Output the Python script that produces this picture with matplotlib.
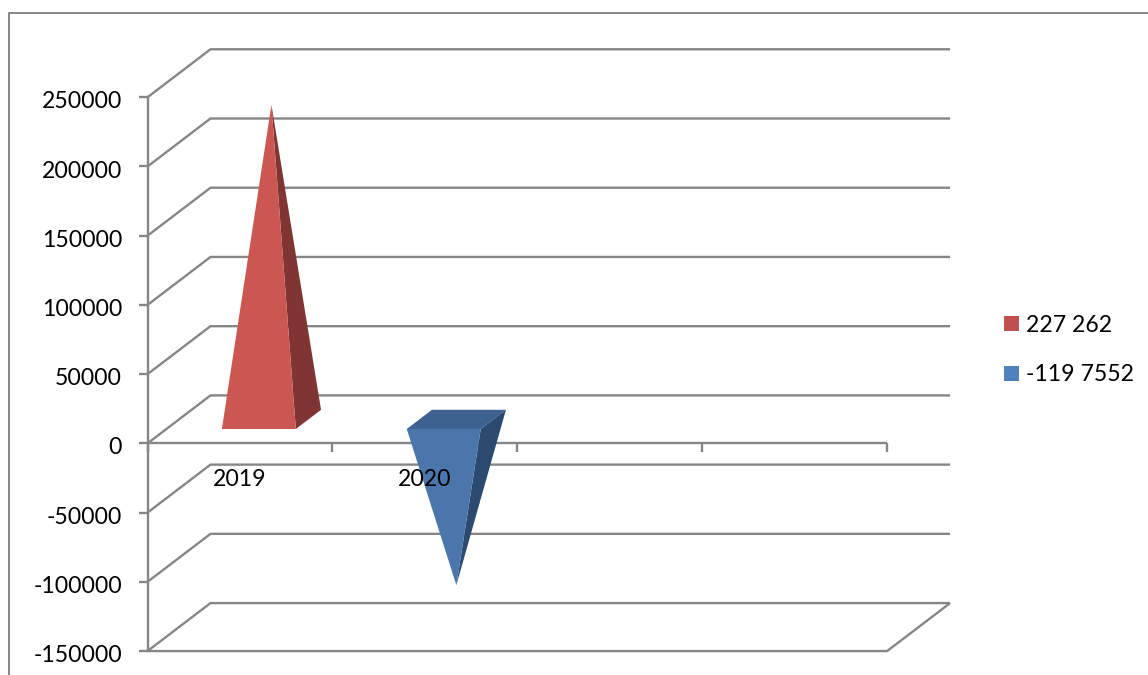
import matplotlib

matplotlib.use("Agg")
import matplotlib.pyplot as plt
from matplotlib.lines import Line2D
from matplotlib.patches import Patch, Polygon

plt.rcParams["font.family"] = ["Lato", "DejaVu Sans"]

# chart data
categories = ["2019", "2020", "", ""]
series_labels = ["227 262", "-119 7552"]
values = [227262, -119755]
y_ticks = [250000, 200000, 150000, 100000, 50000, 0, -50000, -100000, -150000]

# pixel scale of the 3D box
W, H = 1148, 675
CAT_PX = 184.9
VAL_PX = 1.3845 / 1000
X0_PX, Y0_PX = 147.5, 443.4
DEPTH_X = 63 / CAT_PX
DEPTH_Y = 48 / VAL_PX

GRID = "#868686"
LW = 1.7
FONT = 16.6

RED = {"face": "#CB5753", "side": "#803533", "key": "#C0504D"}
BLUE = {"face": "#4A76AC", "side": "#2C4A6F", "top": "#3E6290", "key": "#4F81BD"}


def project(cat, value, depth=0.0):
    """Category/value/depth to the oblique drawing plane."""
    return cat + depth * DEPTH_X, value + depth * DEPTH_Y


def pyramid(ax, slot, value, colors):
    # base square spans 0.4 of a category and 0.3-0.7 of the depth
    x0 = slot + 0.3
    x1 = slot + 0.7
    d0, d1 = 0.3, 0.7
    apex = project(slot + 0.5, value, 0.5)
    if value < 0:
        top = [project(x0, 0, d0), project(x1, 0, d0), project(x1, 0, d1), project(x0, 0, d1)]
        ax.add_patch(Polygon(top, fc=colors["top"], ec="none", zorder=3))
    side = [project(x1, 0, d0), project(x1, 0, d1), apex]
    ax.add_patch(Polygon(side, fc=colors["side"], ec="none", zorder=3))
    front = [project(x0, 0, d0), project(x1, 0, d0), apex]
    ax.add_patch(Polygon(front, fc=colors["face"], ec="none", zorder=4))


fig = plt.figure(figsize=(W / 100, H / 100), dpi=100)
ax = fig.add_axes([0, 0, 1, 1])
ax.set_xlim(-X0_PX / CAT_PX, (W - X0_PX) / CAT_PX)
ax.set_ylim((Y0_PX - H) / VAL_PX, Y0_PX / VAL_PX)
ax.axis("off")

n_cat = len(categories)
y_min, y_max = min(y_ticks), max(y_ticks)
tick_x = 8.5 / CAT_PX
line = dict(color=GRID, lw=LW, solid_capstyle="butt", zorder=2)

# wall gridlines with their floor diagonals, and value labels
for v in y_ticks:
    xs, ys = zip(project(0, v), project(0, v, 1), project(n_cat, v, 1))
    ax.plot(xs, ys, **line)
    ax.plot([-tick_x, 0], [v, v], **line)
    ax.text(-25.5 / CAT_PX, v - 4.5 / VAL_PX, str(v), ha="right", va="center", fontsize=FONT, color="black", zorder=6)

# value axis, floor edges, category axis
ax.plot([0, 0], [y_min, y_max], **line)
xs, ys = zip(project(0, y_min), project(n_cat, y_min), project(n_cat, y_min, 1))
ax.plot(xs, ys, **line)
ax.plot([0, n_cat], [0, 0], **line)
for i in range(n_cat + 1):
    ax.plot([i, i], [0, -8.5 / VAL_PX], **line)

for i, (val, cols) in enumerate(zip(values, [RED, BLUE])):
    pyramid(ax, i, val, cols)

for i, name in enumerate(categories):
    ax.text(i + 0.5, -36.5 / VAL_PX, name, ha="center", va="center", fontsize=FONT, color="black", zorder=6)

handles = [Patch(fc=RED["key"], ec="none"), Patch(fc=BLUE["key"], ec="none")]
ax.legend(
    handles,
    series_labels,
    loc="center left",
    bbox_to_anchor=(1004 / W, 1 - 350 / H),
    bbox_transform=fig.transFigure,
    frameon=False,
    fontsize=FONT,
    handlelength=0.65,
    handleheight=0.65,
    handletextpad=0.3,
    labelspacing=1.25,
    borderpad=0,
    borderaxespad=0,
)

# outer chart border, open at the right and bottom
fig.add_artist(
    Line2D([8.5 / W, 8.5 / W, 1], [0, 1 - 13 / H, 1 - 13 / H], color=GRID, lw=1.4, transform=fig.transFigure)
)

fig.savefig("out.png", dpi=100)
